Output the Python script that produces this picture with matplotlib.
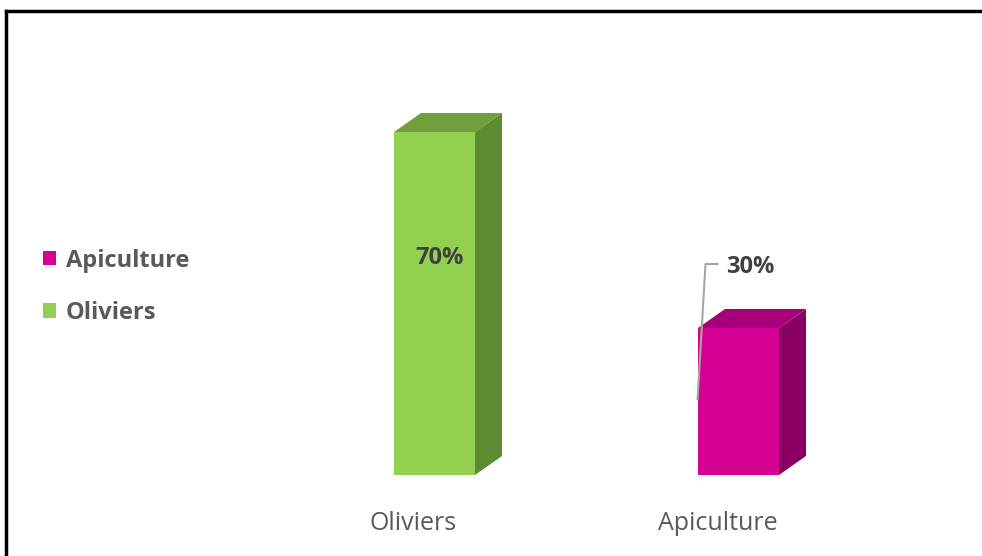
import matplotlib
matplotlib.use("Agg")
import matplotlib.pyplot as plt
from matplotlib.patches import Polygon, Patch
from matplotlib.lines import Line2D

# ---------------------------------------------------------
# data
# ---------------------------------------------------------
categories = ["Oliviers", "Apiculture"]
values = [70, 30]
labels = ["70%", "30%"]
legend_order = ["Apiculture", "Oliviers"]

front_colors = ["#92D050", "#D60093"]
side_colors = ["#5E8A32", "#8A0062"]
top_colors = ["#6E9F3B", "#A8007C"]

# ---------------------------------------------------------
# figure / axes (axes fill the figure, limits set so the bars land right)
# ---------------------------------------------------------
W, H = 982, 556
fig = plt.figure(figsize=(W / 100, H / 100), dpi=100)
ax = fig.add_axes([0, 0, 1, 1])
px_x = 304.0          # pixels per category step
px_y = 4.9            # pixels per percent
x0_px, y0_px = 434.5, 475.0
ax.set_xlim(-x0_px / px_x, (W - x0_px) / px_x)
ax.set_ylim(-(H - y0_px) / px_y, y0_px / px_y)
ax.axis("off")

width = 81 / px_x
dx = 27 / px_x
dy = 19 / px_y

for i, (cat, v) in enumerate(zip(categories, values)):
    l, r = i - width / 2, i + width / 2
    front = Polygon([(l, 0), (r, 0), (r, v), (l, v)], closed=True,
                    facecolor=front_colors[i], edgecolor="none")
    side = Polygon([(r, 0), (r + dx, dy), (r + dx, v + dy), (r, v)], closed=True,
                   facecolor=side_colors[i], edgecolor="none")
    top = Polygon([(l, v), (r, v), (r + dx, v + dy), (l + dx, v + dy)], closed=True,
                  facecolor=top_colors[i], edgecolor="none")
    for p in (side, top, front):
        ax.add_patch(p)
    # category label under the bar
    ax.text(i - 21 / px_x, -49 / px_y, cat, ha="center", va="center",
            fontsize=18, color="#595959", family="Open Sans")

# value labels
ax.text(0 + 5 / px_x, values[0] - 126 / px_y, labels[0], ha="center", va="center",
        fontsize=17, fontweight="bold", color="#404040", family="Open Sans")
ax.text(1 + 12 / px_x, values[1] + 61 / px_y, labels[1], ha="center", va="center",
        fontsize=17, fontweight="bold", color="#404040", family="Open Sans")
# leader line for 30%
lx = [1 - 20 / px_x, 1 - 33 / px_x, 1 - 41 / px_x]
ly = [values[1] + 64 / px_y, values[1] + 64 / px_y, values[1] - 72 / px_y]
ax.plot(lx, ly, color="#A6A6A6", lw=1.5, solid_capstyle="butt")

# legend
handles = [Patch(facecolor=front_colors[categories.index(n)], edgecolor="none")
           for n in legend_order]
leg = fig.legend(handles, legend_order, loc="upper left",
                 bbox_to_anchor=(19 / W, 1 - 225 / H), frameon=False,
                 prop={"family": "Open Sans", "weight": "bold", "size": 17},
                 handlelength=0.55, handleheight=0.55, handletextpad=0.42,
                 labelspacing=1.2, borderpad=0.5)
for t in leg.get_texts():
    t.set_color("#595959")

# black frame (top and left edges visible)
fig.add_artist(Line2D([5.5 / W, 1], [1 - 10.5 / H, 1 - 10.5 / H], color="black", lw=2.5,
                      transform=fig.transFigure, solid_capstyle="projecting"))
fig.add_artist(Line2D([5.5 / W, 5.5 / W], [1 - 10.5 / H, 0], color="black", lw=2.5,
                      transform=fig.transFigure, solid_capstyle="projecting"))

fig.savefig("out.png", dpi=100)
